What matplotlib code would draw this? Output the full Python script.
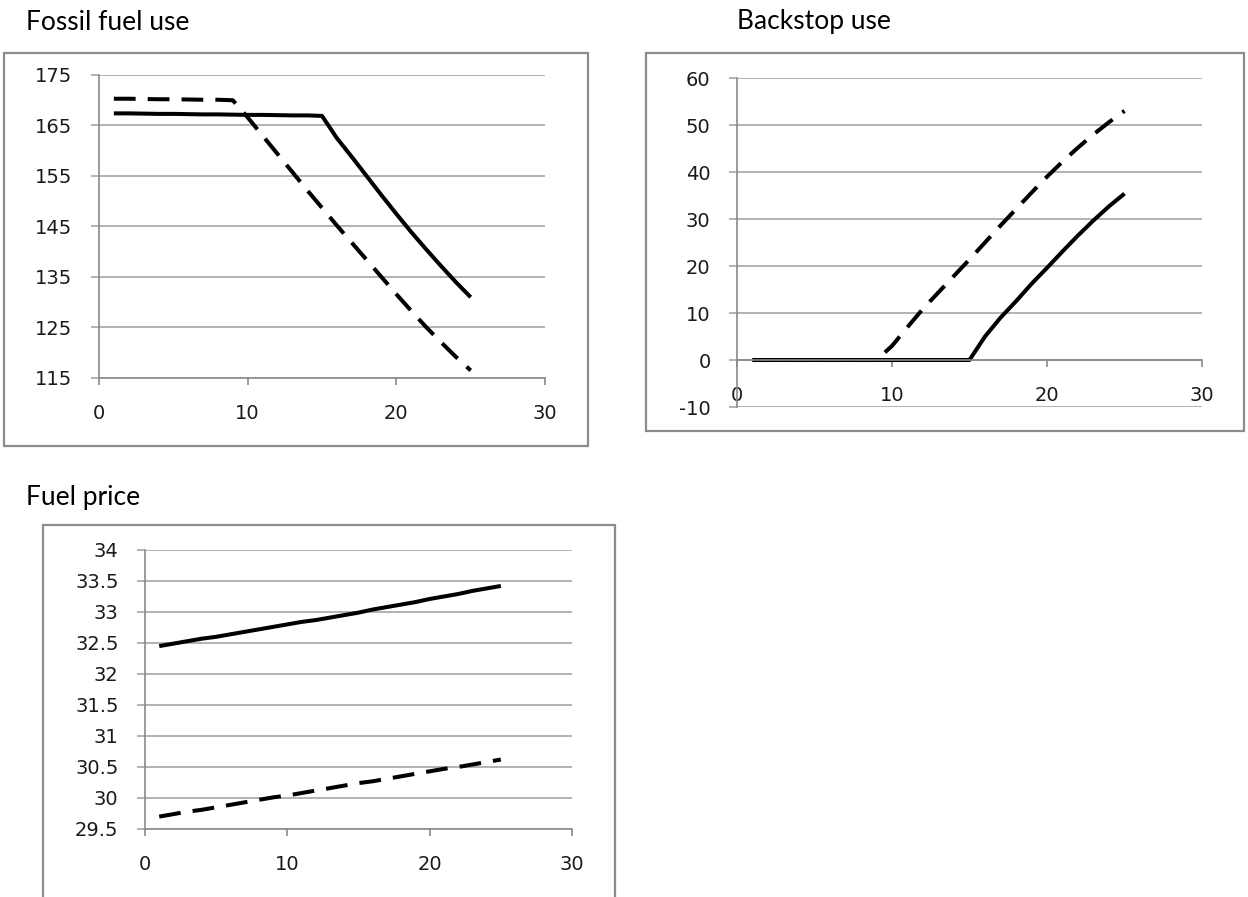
import matplotlib
matplotlib.use('Agg')
import matplotlib.pyplot as plt
from matplotlib.patches import Rectangle

plt.rcParams['axes.unicode_minus'] = False

# data (period 1..25)
years = list(range(1, 26))

fossil_solid = [167.4, 167.4, 167.35, 167.3, 167.3, 167.25, 167.2, 167.2, 167.15, 167.1,
                167.1, 167.05, 167.0, 167.0, 166.9, 162.5, 158.8, 155.0, 151.2, 147.5,
                143.9, 140.5, 137.2, 134.0, 131.0]
fossil_dashed = [170.3, 170.3, 170.25, 170.2, 170.2, 170.15, 170.1, 170.1, 170.0, 166.6,
                 163.0, 159.4, 155.8, 152.2, 148.7, 145.2, 141.8, 138.4, 135.0, 131.6,
                 128.3, 125.1, 122.1, 119.2, 116.5]

backstop_solid = [0.0, 0.0, 0.0, 0.0, 0.0, 0.0, 0.0, 0.0, 0.0, 0.0,
                  0.0, 0.0, 0.0, 0.0, 0.0, 5.0, 9.0, 12.5, 16.2, 19.6,
                  23.1, 26.5, 29.7, 32.7, 35.4]
backstop_dashed = [0.0, 0.0, 0.0, 0.0, 0.0, 0.0, 0.0, 0.0, 0.0, 3.0,
                   7.0, 10.9, 14.4, 17.9, 21.4, 25.0, 28.6, 32.1, 35.6, 39.0,
                   42.2, 45.2, 48.0, 50.6, 53.0]

price_solid = [32.45, 32.49, 32.53, 32.57, 32.60, 32.64, 32.68, 32.72, 32.76, 32.80,
               32.84, 32.87, 32.91, 32.95, 32.99, 33.04, 33.08, 33.12, 33.16, 33.21,
               33.25, 33.29, 33.34, 33.38, 33.42]
price_dashed = [29.70, 29.74, 29.78, 29.81, 29.85, 29.89, 29.93, 29.97, 30.01, 30.04,
                30.08, 30.12, 30.16, 30.20, 30.24, 30.27, 30.31, 30.35, 30.39, 30.43,
                30.47, 30.50, 30.54, 30.58, 30.62]

titles = ['Fossil fuel use', 'Backstop use', 'Fuel price']
x_ticks = [0, 10, 20, 30]
fossil_ticks = [115, 125, 135, 145, 155, 165, 175]
backstop_ticks = [-10, 0, 10, 20, 30, 40, 50, 60]
price_ticks = [29.5, 30, 30.5, 31, 31.5, 32, 32.5, 33, 33.5, 34]
price_labels = ['29.5', '30', '30.5', '31', '31.5', '32', '32.5', '33', '33.5', '34']

GRID = '#a6a6a6'
AXIS = '#8a8a8a'
BOX = '#8c8c8c'

fig = plt.figure(figsize=(12.48, 8.97), dpi=100)

# chart boxes (figure fraction)
for box in [(0.0032, 0.5028, 0.4679, 0.4381),
            (0.5176, 0.5195, 0.4793, 0.4214),
            (0.0345, -0.05, 0.4583, 0.4647)]:
    fig.add_artist(Rectangle(box[:2], box[2], box[3], transform=fig.transFigure,
                             fill=False, edgecolor=BOX, lw=1.6))

ax1 = fig.add_axes([0.07933, 0.57860, 0.35737, 0.33779])
ax2 = fig.add_axes([0.59054, 0.54626, 0.37260, 0.36678])
ax3 = fig.add_axes([0.11619, 0.07581, 0.34215, 0.31104])


def style(ax, yticks, ylabels=None):
    ax.set_xlim(0, 30)
    ax.set_ylim(yticks[0], yticks[-1])
    ax.set_xticks(x_ticks)
    ax.set_yticks(yticks)
    if ylabels is not None:
        ax.set_yticklabels(ylabels)
    ax.grid(axis='y', color=GRID, lw=1.2)
    ax.set_axisbelow(True)
    for s in ['top', 'right']:
        ax.spines[s].set_visible(False)
    for s in ['left', 'bottom']:
        ax.spines[s].set_color(AXIS)
        ax.spines[s].set_linewidth(1.2)
    ax.tick_params(axis='y', length=6, width=1.2, color=GRID, pad=13,
                   labelsize=14, labelcolor='#1a1a1a')
    ax.tick_params(axis='x', length=5, width=1.2, color=AXIS, pad=14,
                   labelsize=14, labelcolor='#1a1a1a')


def draw(ax, solid, dashed):
    ax.plot(years, solid, color='black', lw=2.9, solid_capstyle='butt',
            solid_joinstyle='round', clip_on=False)
    ax.plot(years, dashed, color='black', lw=2.9, dashes=(5.4, 3.0),
            dash_capstyle='butt', dash_joinstyle='round', clip_on=False)


draw(ax1, fossil_solid, fossil_dashed)
style(ax1, fossil_ticks)

draw(ax2, backstop_solid, backstop_dashed)
style(ax2, backstop_ticks)
ax2.spines['bottom'].set_position(('data', 0))

draw(ax3, price_solid, price_dashed)
style(ax3, price_ticks, price_labels)

title_font = dict(fontsize=19, family=['Lato', 'DejaVu Sans'], va='center', ha='left')
fig.text(26 / 1248, 1 - 22 / 897, titles[0], **title_font)
fig.text(737 / 1248, 1 - 22 / 897, titles[1], **title_font)
fig.text(26 / 1248, 1 - 497 / 897, titles[2], **title_font)

fig.savefig('out.png', dpi=100)
